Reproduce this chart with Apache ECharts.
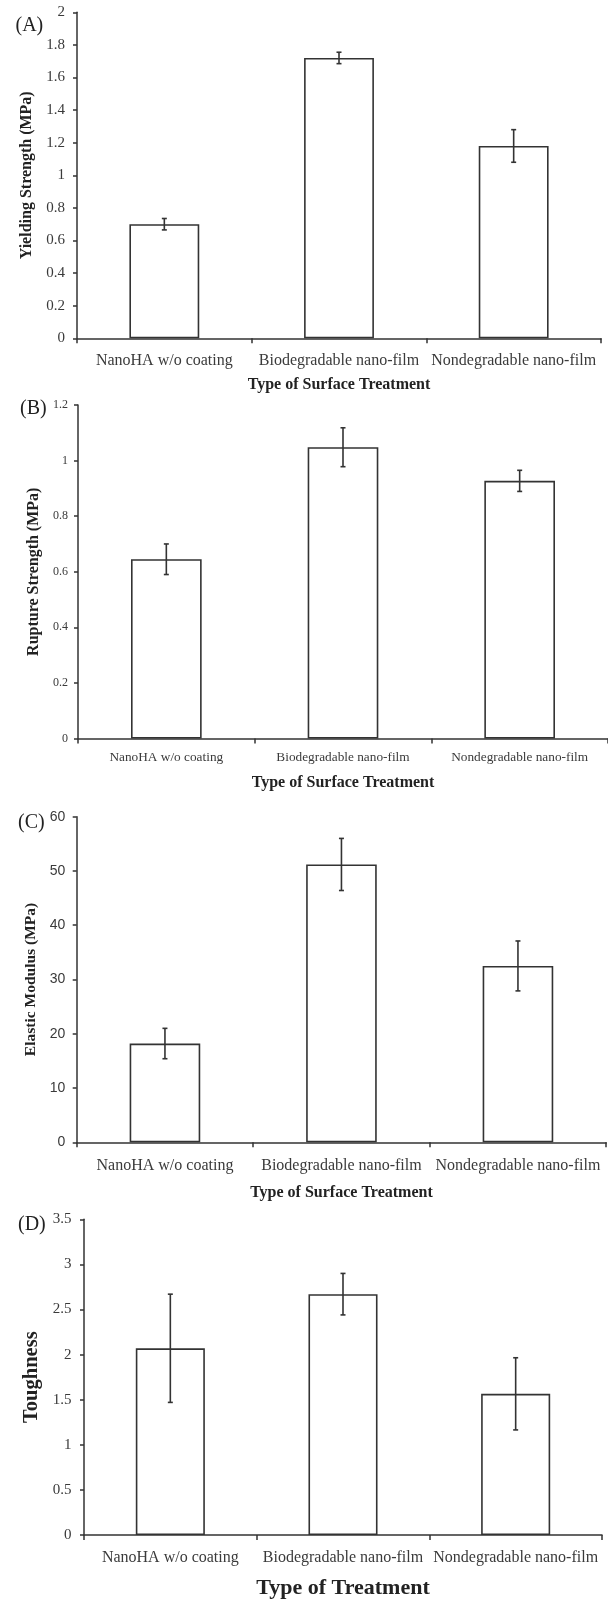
<!DOCTYPE html>
<html>
<head>
<meta charset="utf-8">
<script src="https://cdn.jsdelivr.net/npm/echarts@6/dist/echarts.min.js"></script>
<style>
  html, body { margin: 0; padding: 0; background: #fff; }
  #chart { width: 608px; height: 1600px; }
</style>
</head>
<body>
<div id="chart"></div>
<script>
// Treatment groups shared by all four panels
const categories = ['NanoHA w/o coating', 'Biodegradable nano-film', 'Nondegradable nano-film'];

// (A) yielding strength, MPa
const yieldMean = [0.70, 1.72, 1.18];
const yieldErr = [0.035, 0.035, 0.10];
// (B) rupture strength, MPa
const ruptureMean = [0.645, 1.048, 0.927];
const ruptureErr = [0.055, 0.07, 0.038];
// (C) elastic modulus, MPa
const modulusMean = [18.2, 51.2, 32.5];
const modulusErr = [2.8, 4.8, 4.6];
// (D) toughness
const toughMean = [2.07, 2.67, 1.565];
const toughErr = [0.60, 0.23, 0.40];

// value-axis ranges (min, max, step)
const yRangeA = [0, 2, 0.2];
const yRangeB = [0, 1.2, 0.2];
const yRangeC = [0, 60, 10];
const yRangeD = [0, 3.5, 0.5];

const INK = '#333';
const SERIF = '"Liberation Serif", "Times New Roman", serif';
const SANS = '"Liberation Sans", Arial, sans-serif';

const panels = [
  { tag: '(A)', tagPos: [15.5, 26], mean: yieldMean, err: yieldErr, range: yRangeA,
    grid: { left: 77, top: 12.3, width: 524, height: 326 },
    yName: 'Yielding Strength (MPa)', yNameSize: 16, yNameGap: 36,
    yLabel: { fontSize: 15, fontFamily: SERIF, margin: 12 },
    xLabel: { fontSize: 16, margin: 14 },
    xName: 'Type of Surface Treatment', xNameSize: 16, xNameGap: 38.5 },
  { tag: '(B)', tagPos: [20, 409], mean: ruptureMean, err: ruptureErr, range: yRangeB,
    grid: { left: 78, top: 405, width: 530, height: 333.5 },
    yName: 'Rupture Strength (MPa)', yNameSize: 16, yNameGap: 32,
    yLabel: { fontSize: 12, fontFamily: SERIF, margin: 10 },
    xLabel: { fontSize: 13.3, margin: 12.5 },
    xName: 'Type of Surface Treatment', xNameSize: 16, xNameGap: 36 },
  { tag: '(C)', tagPos: [18, 823], mean: modulusMean, err: modulusErr, range: yRangeC,
    grid: { left: 76.7, top: 816.7, width: 529.5, height: 325.6 },
    yName: 'Elastic Modulus (MPa)', yNameSize: 15.5, yNameGap: 34,
    yLabel: { fontSize: 14, fontFamily: SANS, margin: 11.5 },
    xLabel: { fontSize: 16, margin: 15.5 },
    xName: 'Type of Surface Treatment', xNameSize: 16, xNameGap: 42.5 },
  { tag: '(D)', tagPos: [18, 1225], mean: toughMean, err: toughErr, range: yRangeD,
    grid: { left: 84, top: 1219.3, width: 518, height: 316.7 },
    yName: 'Toughness', yNameSize: 20.5, yNameGap: 38.5,
    yLabel: { fontSize: 15, fontFamily: SERIF, margin: 12.5 },
    xLabel: { fontSize: 16, margin: 15 },
    xName: 'Type of Treatment', xNameSize: 22, xNameGap: 42 }
];

// Error whisker: vertical stroke with short caps, positioned through the axes
function renderError(params, api) {
  const idx = api.value(0);
  const m = api.value(1);
  const e = api.value(2);
  const hi = api.coord([idx, m + e]);
  const lo = api.coord([idx, m - e]);
  const cap = 2.5;
  const style = { stroke: INK, lineWidth: 1.6 };
  return {
    type: 'group',
    children: [
      { type: 'line', shape: { x1: hi[0], y1: hi[1], x2: lo[0], y2: lo[1] }, style },
      { type: 'line', shape: { x1: hi[0] - cap, y1: hi[1], x2: hi[0] + cap, y2: hi[1] }, style },
      { type: 'line', shape: { x1: lo[0] - cap, y1: lo[1], x2: lo[0] + cap, y2: lo[1] }, style }
    ]
  };
}

const grid = [], xAxis = [], yAxis = [], series = [], graphic = [];

panels.forEach((p, i) => {
  grid.push(Object.assign({ containLabel: false }, p.grid));

  xAxis.push({
    type: 'category', gridIndex: i, data: categories,
    boundaryGap: true,
    axisLine: { lineStyle: { color: INK, width: 1.5 } },
    axisTick: { show: true, length: 5, lineStyle: { color: INK, width: 1.5 } },
    axisLabel: { color: '#3a3a3a', fontFamily: SERIF, fontSize: p.xLabel.fontSize,
                 margin: p.xLabel.margin, interval: 0 },
    name: p.xName, nameLocation: 'middle', nameGap: p.xNameGap,
    nameTextStyle: { color: '#222', fontFamily: SERIF, fontWeight: 'bold', fontSize: p.xNameSize },
    splitLine: { show: false }
  });

  yAxis.push({
    type: 'value', gridIndex: i,
    min: p.range[0], max: p.range[1], interval: p.range[2],
    axisLine: { show: true, lineStyle: { color: INK, width: 1.5 } },
    axisTick: { show: true, length: 4, lineStyle: { color: INK, width: 1.5 } },
    axisLabel: { color: '#3a3a3a', fontFamily: p.yLabel.fontFamily,
                 fontSize: p.yLabel.fontSize, margin: p.yLabel.margin },
    splitLine: { show: false },
    name: p.yName, nameLocation: 'middle', nameRotate: 90, nameGap: p.yNameGap,
    nameTextStyle: { color: '#222', fontFamily: SERIF, fontWeight: 'bold', fontSize: p.yNameSize }
  });

  series.push({
    type: 'bar', xAxisIndex: i, yAxisIndex: i,
    data: p.mean, barWidth: '40%',
    itemStyle: { color: '#fff', borderColor: INK, borderWidth: 1.6 },
    silent: true, animation: false
  });

  series.push({
    type: 'custom', xAxisIndex: i, yAxisIndex: i,
    data: p.mean.map((m, k) => [k, m, p.err[k]]),
    renderItem: renderError, z: 5,
    silent: true, animation: false
  });

  graphic.push({
    type: 'text', x: p.tagPos[0], y: p.tagPos[1],
    style: { text: p.tag, fill: '#222', font: '20px ' + SERIF,
             align: 'left', verticalAlign: 'middle' }
  });
});

const chart = echarts.init(document.getElementById('chart'), null, { renderer: 'canvas' });
chart.setOption({
  backgroundColor: '#fff',
  animation: false,
  grid, xAxis, yAxis, series, graphic
});
</script>
</body>
</html>
